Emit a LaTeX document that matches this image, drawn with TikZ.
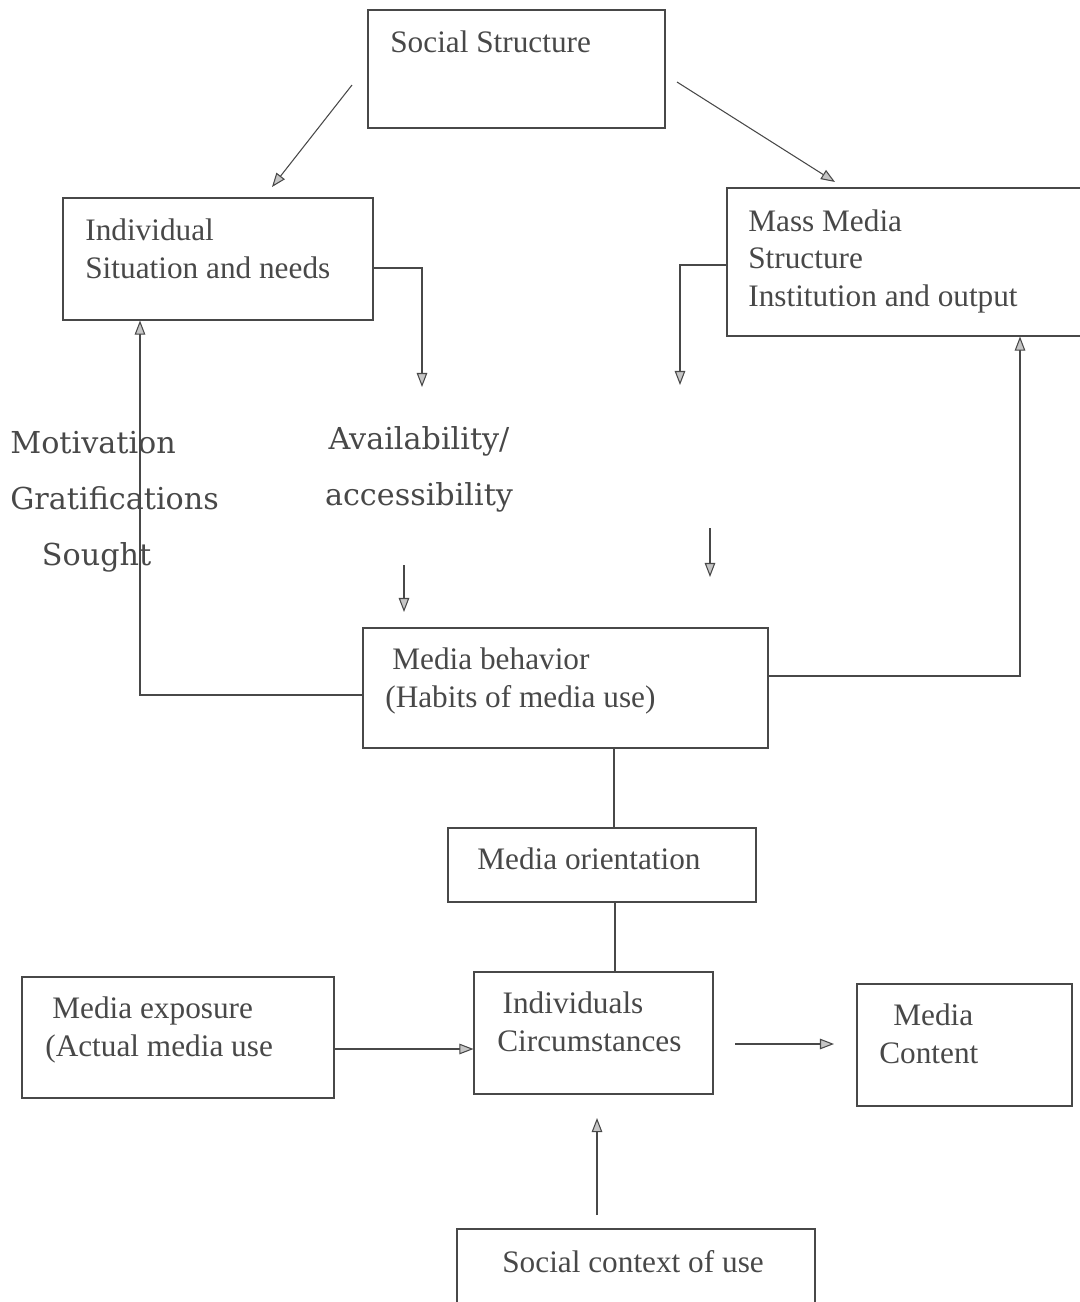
\documentclass[tikz,border=0pt]{standalone}
\usepackage{fontspec}
\setmainfont{Liberation Serif}
\newfontfamily\labfont{DejaVu Serif}
\usetikzlibrary{positioning,calc,fit,arrows.meta}
\definecolor{scanInk}{RGB}{72,72,72}

\begin{document}
\begin{tikzpicture}[x=0.02cm, y=-0.02cm,
	mubox/.style={draw=scanInk, line width=0.6pt, inner sep=0pt},
	mutext/.style={font=\fontsize{17.8}{21.2}\selectfont, text=scanInk, align=left, inner sep=0pt, anchor=base west},
	mulabel/.style={font=\labfont\fontsize{17.2}{31.7}\selectfont, text=scanInk, align=left, inner sep=0pt, anchor=base west},
	muarrow/.style={draw=scanInk, line width=0.6pt, -{Triangle[length=8pt, width=6pt, fill=gray!45]}},
	muline/.style={draw=scanInk, line width=0.6pt}
	]
	\useasboundingbox (0,0) rectangle (1079,1302);
	
	% boxes
	\node[mubox, fit={(368,10) (665,128)}] (ss) {};
	\node[mubox, fit={(63,198) (373,320)}] (ind) {};
	\node[mubox, fit={(727,188) (1084,336)}] (mm) {};
	\node[mubox, fit={(363,628) (768,748)}] (mb) {};
	\node[mubox, fit={(448,828) (756,902)}] (mo) {};
	\node[mubox, fit={(474,972) (713,1094)}] (ic) {};
	\node[mubox, fit={(22,977) (334,1098)}] (me) {};
	\node[mubox, fit={(857,984) (1072,1106)}] (mc) {};
	\node[mubox, fit={(457,1229) (815,1306)}] (sc) {};
	
	% texts (anchored on the last line)
	\node[mutext] (ssT) at (390,52) {Social Structure};
	\node[mutext] (indT) at (85,278) {Individual\\Situation and needs};
	\node[mutext] (mmT) at (748,306) {Mass Media\\Structure\\Institution and output};
	\node[mutext] (mbT) at (385,707) {\hspace*{4pt}Media behavior\\(Habits of media use)};
	\node[mutext] (moT) at (477,869) {Media orientation};
	\node[mutext] (icT) at (497,1051) {\hspace*{3pt}Individuals\\Circumstances};
	\node[mutext] (meT) at (45,1056) {\hspace*{4pt}Media exposure\\(Actual media use};
	\node[mutext] (mcT) at (879,1063) {\hspace*{8pt}Media\\Content};
	\node[mutext] (scT) at (502,1272) {Social context of use};
	\node[mulabel] (motiv) at (10,565) {Motivation\\Gratifications\\\hspace*{18pt}Sought};
	\node[mulabel, align=center, anchor=base] (avail) at (419,505) {Availability/\\accessibility};
	
	% free ends
	\coordinate (ssL) at (352,85);
	\coordinate (indIn) at (272,187);
	\coordinate (ssR) at (677,82);
	\coordinate (mmIn) at (835,182);
	\coordinate (avIn) at (422,387);
	\coordinate (mmOut) at (680,385);
	\coordinate (avOut) at (404,565);
	\coordinate (mbIn) at (404,612);
	\coordinate (mmDown) at (710,528);
	\coordinate (mbIn2) at (710,577);
	\coordinate (icOut) at (735,1044);
	\coordinate (mcIn) at (834,1044);
	\coordinate (scOut) at (597,1215);
	\coordinate (icIn) at (597,1118);
	
	% connectors
	\draw[muarrow] (ssL) -- (indIn);
	\draw[muarrow] (ssR) -- (mmIn);
	\draw[muarrow] (ind.east |- 0,268) -| (avIn);
	\draw[muarrow] (mm.west |- 0,265) -| (mmOut);
	\draw[muarrow] (avOut) -- (mbIn);
	\draw[muarrow] (mmDown) -- (mbIn2);
	\draw[muarrow] (mb.west |- 0,695) -| (ind.south -| 140,0);
	\draw[muarrow] (mb.east |- 0,676) -| (mm.south -| 1020,0);
	\draw[muline] (mb.south -| 614,0) -- (mo.north -| 614,0);
	\draw[muline] (mo.south -| 615,0) -- (ic.north -| 615,0);
	\draw[muarrow] (me.east |- 0,1049) -- (ic.west |- 0,1049);
	\draw[muarrow] (icOut) -- (mcIn);
	\draw[muarrow] (scOut) -- (icIn);
\end{tikzpicture}
\end{document}
